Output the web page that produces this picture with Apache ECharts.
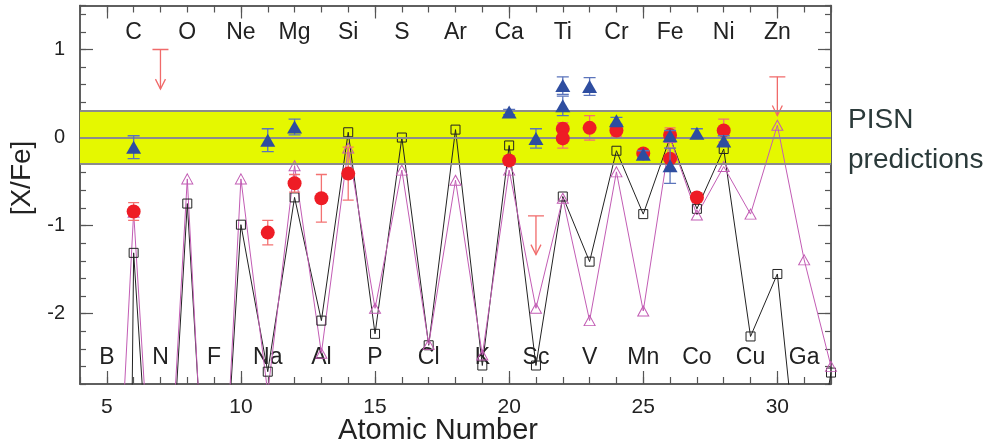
<!DOCTYPE html>
<html>
<head>
<meta charset="utf-8">
<script src="https://cdn.jsdelivr.net/npm/echarts@6/dist/echarts.min.js"></script>
<style>
  html, body { margin: 0; padding: 0; background: #fff; }
  #chart { width: 989px; height: 445px; }
</style>
</head>
<body>
<div id="chart"></div>
<script>
// element names along top (even Z) and bottom (odd Z)
var topZ = [6, 8, 10, 12, 14, 16, 18, 20, 22, 24, 26, 28, 30];
var topNames = ['C', 'O', 'Ne', 'Mg', 'Si', 'S', 'Ar', 'Ca', 'Ti', 'Cr', 'Fe', 'Ni', 'Zn'];
var botZ = [5, 7, 9, 11, 13, 15, 17, 19, 21, 23, 25, 27, 29, 31];
var botNames = ['B', 'N', 'F', 'Na', 'Al', 'P', 'Cl', 'K', 'Sc', 'V', 'Mn', 'Co', 'Cu', 'Ga'];

// PISN models (black squares, pink triangles)
var blackZ = [5, 6, 7, 8, 9, 10, 11, 12, 13, 14, 15, 16, 17, 18, 19, 20, 21, 22, 23, 24, 25, 26, 27, 28, 29, 30, 31, 32];
var blackVal = [-30, -1.31, -6.0, -0.75, -5.9, -0.99, -2.66, -0.68, -2.08, 0.06, -2.23, 0.0, -2.36, 0.09, -2.59, -0.09, -2.59, -0.67, -1.41, -0.15, -0.87, 0.0, -0.81, -0.13, -2.26, -1.55, -4.5, -2.67];
var pinkZ = [5, 6, 7, 8, 9, 10, 11, 12, 13, 14, 15, 16, 17, 18, 19, 20, 21, 22, 23, 24, 25, 26, 27, 28, 29, 30, 31, 32];
var pinkVal = [-6.7, -0.85, -5.8, -0.47, -6.3, -0.47, -2.9, -0.32, -2.45, -0.12, -1.94, -0.37, -2.35, -0.485, -2.47, -0.37, -1.94, -0.69, -2.08, -0.39, -1.97, 0.0, -0.88, -0.33, -0.87, 0.14, -1.39, -2.6];

// observed abundances: red circles
var redZ = [6, 11, 12, 13, 14, 20, 22, 22, 23, 24, 25, 26, 26, 27, 28];
var redVal = [-0.84, -1.08, -0.52, -0.69, -0.41, -0.26, 0.1, -0.01, 0.11, 0.08, -0.18, 0.03, -0.24, -0.68, 0.08];
var redErr = [0.1, 0.14, 0.1, 0.27, 0.3, 0.05, 0.07, 0.11, 0.14, 0.07, 0.04, 0.08, 0.12, 0.05, 0.13];

// observed abundances: blue triangles
var blueZ = [6, 11, 12, 20, 21, 22, 22, 23, 24, 25, 26, 26, 27, 28];
var blueVal = [-0.11, -0.03, 0.12, 0.29, -0.01, 0.59, 0.36, 0.58, 0.19, -0.19, 0.02, -0.32, 0.05, -0.04];
var blueErr = [0.13, 0.13, 0.09, 0.03, 0.11, 0.1, 0.11, 0.1, 0.04, 0.04, 0.06, 0.2, 0.05, 0.06];

// upper limits (cap value, arrow tip value)
var limZ = [7, 21, 30];
var limTop = [1.0, -0.89, 0.69];
var limTip = [0.55, -1.33, 0.25];

var xMajor = [5, 10, 15, 20, 25, 30];
var yMajor = [-2, -1, 0, 1];

var frame = '#555';
var font = 'Liberation Sans';

function pairs(xs, ys) {
    return xs.map(function (x, i) { return [x, ys[i]]; });
}
function triples(xs, ys, es) {
    return xs.map(function (x, i) { return [x, ys[i], es[i]]; });
}

function errBar(capW, color) {
    return function (params, api) {
        var x = api.value(0), y = api.value(1), e = api.value(2);
        var hi = api.coord([x, y + e]);
        var lo = api.coord([x, y - e]);
        var h = capW / 2;
        var st = { stroke: color, lineWidth: 1.3 };
        return {
            type: 'group', children: [
                { type: 'line', shape: { x1: hi[0], y1: hi[1], x2: lo[0], y2: lo[1] }, style: st },
                { type: 'line', shape: { x1: hi[0] - h, y1: hi[1], x2: hi[0] + h, y2: hi[1] }, style: st },
                { type: 'line', shape: { x1: lo[0] - h, y1: lo[1], x2: lo[0] + h, y2: lo[1] }, style: st }
            ]
        };
    };
}

function limitRender(params, api) {
    var x = api.value(0);
    var top = api.coord([x, api.value(1)]);
    var tip = api.coord([x, api.value(2)]);
    var st = { stroke: '#f06a6a', lineWidth: 1.3, fill: null };
    return {
        type: 'group', children: [
            { type: 'line', shape: { x1: top[0] - 8, y1: top[1], x2: top[0] + 8, y2: top[1] }, style: st },
            { type: 'line', shape: { x1: top[0], y1: top[1], x2: tip[0], y2: tip[1] }, style: st },
            { type: 'polyline', shape: { points: [[tip[0] - 5, tip[1] - 10], [tip[0], tip[1]], [tip[0] + 5, tip[1] - 10]] }, style: st }
        ]
    };
}

function nameOf(zs, names) {
    return function (v) {
        var i = zs.indexOf(Math.round(v));
        return i < 0 ? '' : names[i];
    };
}

function xAx(pos, major, labels) {
    var a = {
        type: 'value', position: pos, min: 4, max: 32,
        axisLine: { show: true, onZero: false, lineStyle: { color: frame, width: 1.5 } },
        splitLine: { show: false },
        axisTick: { show: true, inside: true, lineStyle: { color: frame, width: 1.2 } },
        axisLabel: { show: false }
    };
    if (major) {
        a.axisTick.customValues = xMajor;
        a.axisTick.length = 13;
    } else {
        a.interval = 1;
        a.axisTick.length = 7;
    }
    if (labels) a.axisLabel = labels;
    return a;
}

function yAx(pos, major, labels) {
    var a = {
        type: 'value', position: pos, min: -2.8, max: 1.5,
        axisLine: { show: true, onZero: false, lineStyle: { color: frame, width: 1.5 } },
        splitLine: { show: false },
        axisTick: { show: true, inside: true, lineStyle: { color: frame, width: 1.2 } },
        axisLabel: { show: false }
    };
    if (major) {
        a.axisTick.customValues = yMajor;
        a.axisTick.length = 13;
    } else {
        a.interval = 0.2;
        a.axisTick.length = 6;
    }
    if (labels) a.axisLabel = labels;
    return a;
}

var chart = echarts.init(document.getElementById('chart'));

var option = {
    backgroundColor: '#fff',
    animation: false,
    grid: { left: 80, right: 158, top: 5.5, bottom: 61, containLabel: false },
    xAxis: [
        xAx('bottom', true, { show: true, customValues: xMajor, margin: 13, fontSize: 21, color: '#222', fontFamily: font }),
        xAx('bottom', false, { show: true, customValues: botZ, inside: true, margin: 15, fontSize: 23, color: '#222', fontFamily: font, formatter: nameOf(botZ, botNames) }),
        xAx('top', true, null),
        xAx('top', false, { show: true, customValues: topZ, inside: true, margin: 16, fontSize: 23, color: '#222', fontFamily: font, formatter: nameOf(topZ, topNames) })
    ],
    yAxis: [
        yAx('left', true, { show: true, customValues: yMajor, margin: 15, fontSize: 20, color: '#222', fontFamily: font }),
        yAx('left', false, null),
        yAx('right', true, null),
        yAx('right', false, null)
    ],
    graphic: [
        { type: 'text', x: 22, y: 178, rotation: Math.PI / 2, style: { text: '[X/Fe]', fontSize: 28, fontFamily: font, fill: '#222', textAlign: 'center', textVerticalAlign: 'middle' } },
        { type: 'text', x: 438, y: 431, style: { text: 'Atomic Number', fontSize: 29, fontFamily: font, fill: '#222', textAlign: 'center', textVerticalAlign: 'middle' } },
        { type: 'text', x: 848, y: 120, style: { text: 'PISN', fontSize: 28, fontFamily: font, fill: '#2b3a3a', textAlign: 'left', textVerticalAlign: 'middle' } },
        { type: 'text', x: 848, y: 160, style: { text: 'predictions', fontSize: 28, fontFamily: font, fill: '#2b3a3a', textAlign: 'left', textVerticalAlign: 'middle' } }
    ],
    series: [
        {
            // yellow band and its gray bounds
            name: 'band', type: 'line', data: [], z: 1,
            markArea: {
                silent: true,
                itemStyle: { color: '#e5f800' },
                data: [[{ yAxis: -0.3 }, { yAxis: 0.3 }]]
            },
            markLine: {
                silent: true, symbol: 'none', label: { show: false },
                lineStyle: { color: '#8c8c8c', width: 2, type: 'solid' },
                data: [{ yAxis: -0.3 }, { yAxis: 0 }, { yAxis: 0.3 }]
            }
        },
        {
            name: 'model A', type: 'line', data: pairs(blackZ, blackVal), z: 3,
            symbol: 'rect', symbolSize: 9, clip: true,
            lineStyle: { color: '#222', width: 1 },
            itemStyle: { color: 'rgba(0,0,0,0)', borderColor: '#222', borderWidth: 1 }
        },
        {
            name: 'model B', type: 'line', data: pairs(pinkZ, pinkVal), z: 3,
            symbol: 'triangle', symbolSize: [11, 10], clip: true,
            lineStyle: { color: '#c25cb4', width: 1 },
            itemStyle: { color: 'rgba(0,0,0,0)', borderColor: '#c25cb4', borderWidth: 1 }
        },
        {
            name: 'red err', type: 'custom', data: triples(redZ, redVal, redErr), z: 4, clip: true,
            renderItem: errBar(11, '#f37272')
        },
        {
            name: 'red', type: 'scatter', data: pairs(redZ, redVal), z: 5,
            symbol: 'circle', symbolSize: 14,
            itemStyle: { color: '#ee1c25', opacity: 1 }
        },
        {
            name: 'blue err', type: 'custom', data: triples(blueZ, blueVal, blueErr), z: 6, clip: true,
            renderItem: errBar(12, '#5b74bb')
        },
        {
            name: 'blue', type: 'scatter', data: pairs(blueZ, blueVal), z: 7,
            symbol: 'triangle', symbolSize: [15, 13],
            itemStyle: { color: '#2e4da0', opacity: 1 }
        },
        {
            name: 'limits', type: 'custom', z: 4, clip: true,
            data: limZ.map(function (z, i) { return [z, limTop[i], limTip[i]]; }),
            renderItem: limitRender
        }
    ]
};
chart.setOption(option);
</script>
</body>
</html>
